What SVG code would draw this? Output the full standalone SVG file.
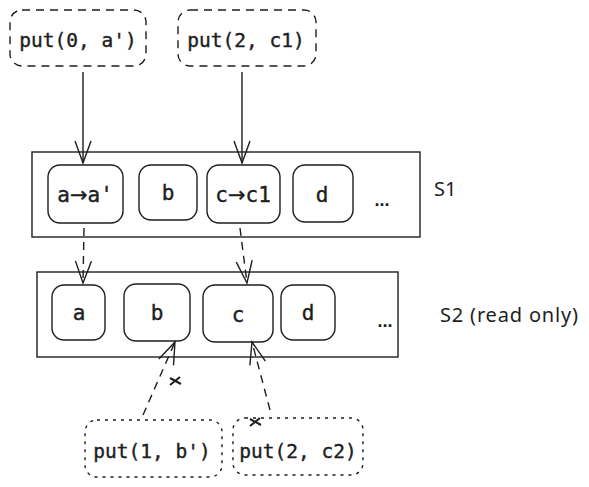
<svg xmlns="http://www.w3.org/2000/svg" width="589" height="487" viewBox="0 0 589 487">
<defs>
<style>
.bg{fill:#ffffff}
.op{fill:none;stroke:#1e1e1e;stroke-width:1.4}
.dash{stroke-dasharray:8 6}
.dot{stroke-dasharray:3 5}
.cont{fill:none;stroke:#1e1e1e;stroke-width:1.4}
.cell{fill:none;stroke:#1e1e1e;stroke-width:1.4}
.mono{font-family:"DejaVu Sans Mono","Liberation Mono",monospace;fill:#1e1e1e;stroke:#1e1e1e;stroke-width:0.4;text-anchor:middle}
.big{font-size:19.5px}
.cellt{font-size:21px}
.ar{font-family:"DejaVu Sans",sans-serif}
.dots{font-family:"Liberation Sans",sans-serif;font-size:18px;font-weight:bold;fill:#1e1e1e;text-anchor:middle}
.hand{font-family:"Noto Sans","DejaVu Sans",sans-serif;font-size:20px;fill:#1e1e1e}
.ln{fill:none;stroke:#1e1e1e;stroke-width:1.4}
.xm{fill:none;stroke:#1e1e1e;stroke-width:2}
</style>
<marker id="arr" viewBox="-24 -12 26 24" refX="0" refY="0" markerWidth="26" markerHeight="24" markerUnits="userSpaceOnUse" orient="auto">
<path d="M-22,-8 L0,0 L-22,8" fill="none" stroke="#1e1e1e" stroke-width="1.4"/>
</marker>
</defs>
<rect class="bg" x="0" y="0" width="589" height="487"/>

<g id="op-put0">
<rect class="op dash" x="10" y="10" width="136" height="56" rx="12"/>
<text class="mono big" x="78" y="47">put(0, a')</text>
</g>
<g id="op-put2c1">
<rect class="op dash" x="178" y="10" width="138" height="56" rx="12"/>
<text class="mono big" x="246" y="47">put(2, c1)</text>
</g>

<g id="S1">
<rect class="cont" x="32" y="152" width="388" height="85"/>
<text class="hand" x="434" y="196">S1</text>
</g>
<g id="s1-a">
<rect class="cell" x="48" y="165" width="75" height="58" rx="12"/>
<text class="mono cellt" x="85" y="202">a<tspan class="ar">→</tspan>a'</text>
</g>
<g id="s1-b">
<rect class="cell" x="139" y="165" width="58" height="55" rx="12"/>
<text class="mono cellt" x="168" y="200">b</text>
</g>
<g id="s1-c">
<rect class="cell" x="207" y="165" width="73" height="58" rx="12"/>
<text class="mono cellt" x="243" y="202">c<tspan class="ar">→</tspan>c1</text>
</g>
<g id="s1-d">
<rect class="cell" x="293" y="165" width="60" height="57" rx="12"/>
<text class="mono cellt" x="322" y="202">d</text>
</g>
<g id="s1-more">
<text class="dots" x="382" y="206">...</text>
</g>

<g id="S2">
<rect class="cont" x="37" y="272" width="361" height="85"/>
<text class="hand" x="440" y="322" textLength="138">S2 (read only)</text>
</g>
<g id="s2-a">
<rect class="cell" x="52" y="285" width="53" height="55" rx="12"/>
<text class="mono cellt" x="79" y="320">a</text>
</g>
<g id="s2-b">
<rect class="cell" x="124" y="284" width="66" height="57" rx="12"/>
<text class="mono cellt" x="157" y="320">b</text>
</g>
<g id="s2-c">
<rect class="cell" x="203" y="285" width="70" height="57" rx="12"/>
<text class="mono cellt" x="238" y="322">c</text>
</g>
<g id="s2-d">
<rect class="cell" x="281" y="285" width="54" height="55" rx="12"/>
<text class="mono cellt" x="308" y="320">d</text>
</g>
<g id="s2-more">
<text class="dots" x="385" y="327">...</text>
</g>

<g id="op-put1b">
<rect class="op dot" x="85" y="420" width="137" height="57" rx="12"/>
<text class="mono big" x="152" y="458">put(1, b')</text>
</g>
<g id="op-put2c2">
<rect class="op dot" x="233" y="418" width="130" height="57" rx="12"/>
<text class="mono big" x="298" y="458">put(2, c2)</text>
</g>

<g id="connectors">
<line class="ln" x1="83" y1="72" x2="83" y2="163" marker-end="url(#arr)"/>
<line class="ln" x1="242" y1="72" x2="242" y2="163" marker-end="url(#arr)"/>
<line class="ln dash" x1="84" y1="228" x2="83" y2="283" marker-end="url(#arr)"/>
<line class="ln dash" x1="240" y1="228" x2="247" y2="283" marker-end="url(#arr)"/>
<line class="ln dash" x1="143" y1="415" x2="175" y2="342" marker-end="url(#arr)"/>
<line class="ln dash" x1="270" y1="410" x2="252" y2="342" marker-end="url(#arr)"/>
<path class="xm" d="M170,378 L181,384 M170,385 L180,377"/>
<path class="xm" d="M250,419 L261,425 M250,426 L260,418"/>
</g>
</svg>
